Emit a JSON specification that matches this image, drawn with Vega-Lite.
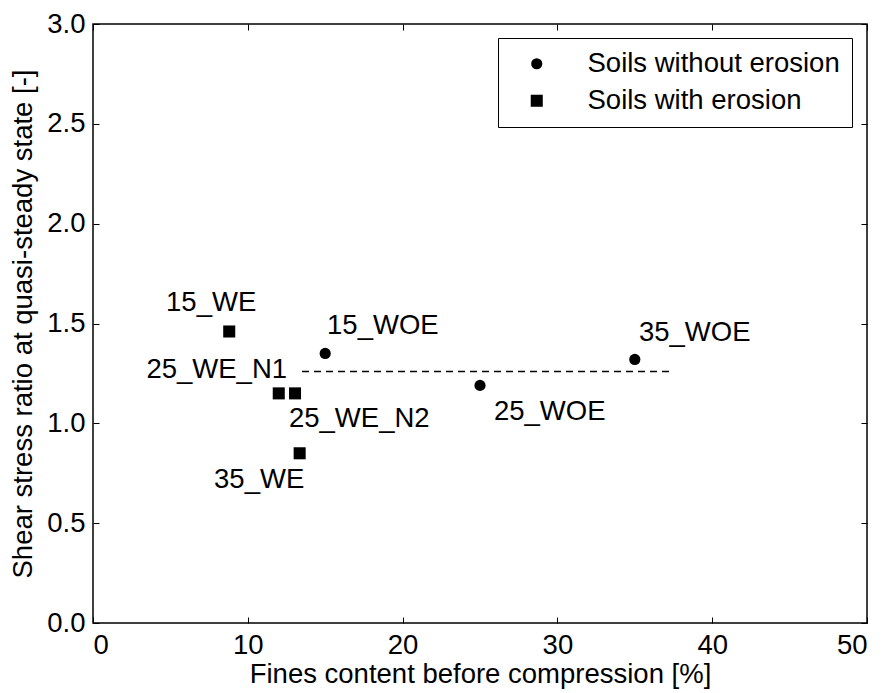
{
  "$schema": "https://vega.github.io/schema/vega-lite/v6.json",
  "width": 774,
  "height": 599,
  "autosize": {"type": "none"},
  "padding": {"left": 93, "top": 24, "right": 17, "bottom": 70},
  "config": {
    "font": "Liberation Sans",
    "view": {"stroke": "black", "strokeWidth": 1.5},
    "axis": {
      "domain": false,
      "grid": false,
      "tickColor": "black",
      "tickWidth": 1,
      "tickSize": -6,
      "labelColor": "black",
      "labelFontSize": 27.5,
      "titleColor": "black",
      "titleFontSize": 27.5,
      "titleFontWeight": "normal"
    }
  },
  "layer": [
    {
      "description": "average ratio of the soils without erosion",
      "data": {"values": [{"fines": 13.5, "ratio": 1.26}, {"fines": 37.5, "ratio": 1.26}]},
      "mark": {"type": "line", "color": "black", "strokeWidth": 1.5, "strokeDash": [7, 5]},
      "encoding": {
        "x": {"field": "fines", "type": "quantitative", "scale": {"domain": [0, 50], "nice": false, "zero": false},
              "axis": {"orient": "top", "values": [0, 10, 20, 30, 40, 50], "labels": false, "title": null}},
        "y": {"field": "ratio", "type": "quantitative", "scale": {"domain": [0, 3], "nice": false, "zero": false},
              "axis": {"orient": "right", "values": [0, 0.5, 1, 1.5, 2, 2.5, 3], "labels": false, "title": null}}
      }
    },
    {
      "data": {"values": [
        {"sample": "15_WE", "fines": 8.8, "ratio": 1.46, "group": "Soils with erosion"},
        {"sample": "25_WE_N1", "fines": 12.0, "ratio": 1.15, "group": "Soils with erosion"},
        {"sample": "25_WE_N2", "fines": 13.05, "ratio": 1.15, "group": "Soils with erosion"},
        {"sample": "35_WE", "fines": 13.35, "ratio": 0.85, "group": "Soils with erosion"},
        {"sample": "15_WOE", "fines": 15.0, "ratio": 1.35, "group": "Soils without erosion"},
        {"sample": "25_WOE", "fines": 25.0, "ratio": 1.19, "group": "Soils without erosion"},
        {"sample": "35_WOE", "fines": 35.0, "ratio": 1.32, "group": "Soils without erosion"}
      ]},
      "mark": {"type": "point", "filled": true, "opacity": 1, "color": "black", "strokeWidth": 0},
      "encoding": {
        "x": {"field": "fines", "type": "quantitative",
              "axis": {"orient": "bottom", "values": [0, 10, 20, 30, 40, 50], "format": "d", "labelPadding": 14,
                       "title": "Fines content before compression [%]", "titlePadding": 2}},
        "y": {"field": "ratio", "type": "quantitative",
              "axis": {"orient": "left", "values": [0, 0.5, 1, 1.5, 2, 2.5, 3], "format": ".1f", "labelPadding": 14,
                       "title": "Shear stress ratio at quasi-steady state [-]", "titlePadding": 9}},
        "shape": {"field": "group", "type": "nominal",
                  "scale": {"domain": ["Soils without erosion", "Soils with erosion"], "range": ["circle", "square"]},
                  "legend": {"orient": "none", "legendX": 405, "legendY": 14, "title": null,
                             "fillColor": "white", "strokeColor": "black", "cornerRadius": 0,
                             "padding": 12, "symbolOffset": 13, "labelOffset": 37, "rowPadding": 8,
                             "labelFontSize": 27.5, "labelColor": "black", "labelLimit": 400,
                             "symbolFillColor": "black", "symbolStrokeWidth": 0}},
        "size": {"field": "group", "type": "nominal",
                 "scale": {"domain": ["Soils without erosion", "Soils with erosion"], "range": [125, 145]}}
      }
    },
    {
      "data": {"values": [
        {"label": "15_WE", "lx": 4.72, "ly": 1.564},
        {"label": "25_WE_N1", "lx": 3.45, "ly": 1.225},
        {"label": "25_WE_N2", "lx": 12.66, "ly": 0.983},
        {"label": "35_WE", "lx": 7.82, "ly": 0.675},
        {"label": "15_WOE", "lx": 15.12, "ly": 1.446},
        {"label": "25_WOE", "lx": 25.9, "ly": 1.017},
        {"label": "35_WOE", "lx": 35.27, "ly": 1.414}
      ]},
      "mark": {"type": "text", "align": "left", "baseline": "alphabetic", "fontSize": 27.5, "color": "black"},
      "encoding": {
        "x": {"field": "lx", "type": "quantitative", "axis": null},
        "y": {"field": "ly", "type": "quantitative", "axis": null},
        "text": {"field": "label"}
      }
    }
  ],
  "resolve": {"axis": {"x": "independent", "y": "independent"}}
}
